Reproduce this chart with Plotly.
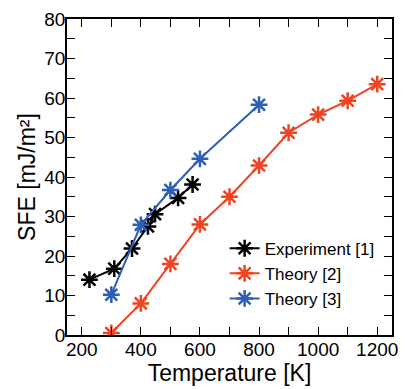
import plotly.graph_objects as go

exp_T = [226, 310, 370, 424, 448, 526, 575]
exp_sfe = [14, 16.8, 21.9, 27.5, 30.6, 34.7, 38.1]
th2_T = [300, 400, 500, 600, 700, 800, 900, 1000, 1100, 1200]
th2_sfe = [0.5, 8, 18, 28, 35, 42.9, 51.2, 55.8, 59.3, 63.5]
th3_T = [300, 400, 500, 600, 800]
th3_sfe = [10.2, 27.9, 36.7, 44.6, 58.3]

series = [
    ("Experiment [1]", exp_T, exp_sfe, "#000000"),
    ("Theory [2]", th2_T, th2_sfe, "#ee4422"),
    ("Theory [3]", th3_T, th3_sfe, "#2d5fb8"),
]

FONT = "Liberation Sans, Arial"

fig = go.Figure()
for name, x, y, c in series:
    fig.add_trace(go.Scatter(
        x=x, y=y, name=name, mode="lines+markers",
        line=dict(color=c, width=2),
        marker=dict(symbol="asterisk-open", size=14, line=dict(color=c, width=2.5)),
    ))

axis_common = dict(
    showgrid=False, zeroline=False, showline=True, linecolor="black", linewidth=1.5,
    mirror="allticks", ticks="inside", ticklen=8, tickcolor="black", tickwidth=1.2,
    tickfont=dict(family=FONT, size=19, color="black"),
)

fig.update_xaxes(
    range=[150, 1250], tickvals=[200, 400, 600, 800, 1000, 1200],
    minor=dict(dtick=100, tick0=0, ticks="inside", ticklen=8, tickcolor="black", tickwidth=1.2),
    title=dict(text="Temperature [K]", font=dict(family=FONT, size=23, color="black"), standoff=0),
    ticklabelstandoff=-4,
    **axis_common,
)
fig.update_yaxes(
    range=[0, 80], dtick=10,
    minor=dict(dtick=5, tick0=0, ticks="inside", ticklen=8, tickcolor="black", tickwidth=1.2),
    title=dict(text="SFE [mJ/m²]", font=dict(family=FONT, size=23, color="black"), standoff=2),
    ticklabelstandoff=-4,
    **axis_common,
)

fig.update_layout(
    width=407, height=389,
    margin=dict(l=67, r=9, t=15, b=54),
    paper_bgcolor="white", plot_bgcolor="white",
    showlegend=True,
    legend=dict(
        x=0.485, y=0.33, xanchor="left", yanchor="top",
        bgcolor="rgba(0,0,0,0)",
        font=dict(family=FONT, size=17, color="black"),
        itemwidth=30, tracegroupgap=0,
    ),
)

fig.write_html("out.html")
